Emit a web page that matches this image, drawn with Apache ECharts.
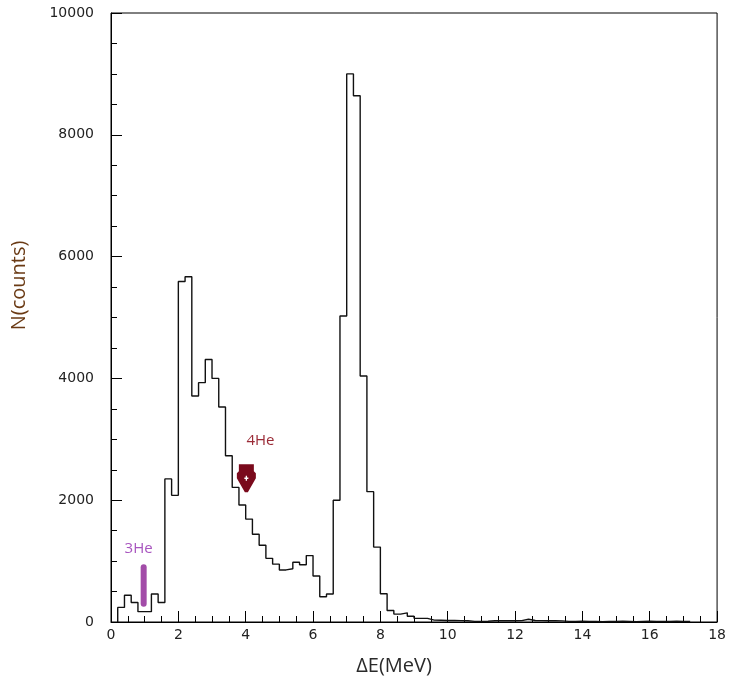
<!DOCTYPE html>
<html>
<head>
<meta charset="utf-8">
<script src="https://cdn.jsdelivr.net/npm/echarts@6/dist/echarts.min.js"></script>
<style>
  html, body { margin: 0; padding: 0; background: #fff; }
  #chart { width: 729px; height: 684px; }
</style>
</head>
<body>
<div id="chart"></div>
<script>
// ΔE spectrum, 0.2 MeV bins starting at 0.2 MeV
const binStart = 0.2;
const binWidth = 0.2;
const counts = [
  240, 440, 320, 170, 170, 460, 320, 2350, 2080,          // 0.2 – 2.0
  5590, 5670, 3710, 3930, 4310, 4000, 3530, 2730, 2210, 1920, // 2.0 – 4.0
  1690, 1440, 1260, 1045, 950, 855, 875, 980, 940, 1090,  // 4.0 – 6.0
  755, 415, 460, 2000, 5025, 9000, 8640, 4040, 2140, 1230, // 6.0 – 8.0
  465, 190, 130, 150, 95, 60, 60, 30, 28, 25,             // 8.0 – 10.0
  25, 22, 20, 10, 10, 12, 20, 20, 22, 20,                 // 10.0 – 12.0
  22, 45, 25, 22, 20, 20, 18, 10, 10, 12,                 // 12.0 – 14.0
  10, 10, 5, 10, 8, 12, 10, 5, 10, 12,                    // 14.0 – 16.0
  10, 10, 8, 12, 10, 10                                   // 16.0 – 17.2
];

const xTicks = { min: 0, max: 18, step: 2 };
const yTicks = { min: 0, max: 10000, step: 2000 };

// particle markers: [ΔE, counts]
const he3Bar = [[0.97, 300], [0.97, 900]];
const he3Label = [0.82, 1210];
const he4Arrow = [4.02, 2360];
const he4Label = [4.44, 2980];

// step outline of the histogram
const edges = counts.map((_, i) => +(binStart + i * binWidth).toFixed(2));
const lastEdge = +(binStart + counts.length * binWidth).toFixed(2);
const outline = [[binStart, 0]]
  .concat(counts.map((c, i) => [edges[i], c]))
  .concat([[lastEdge, 0]]);

const tickFont = { fontFamily: 'DejaVu Sans', fontSize: 14, color: '#222' };
const plain = v => String(v);

const chart = echarts.init(document.getElementById('chart'), null, { renderer: 'canvas' });
chart.setOption({
  animation: false,
  backgroundColor: '#fff',
  grid: {
    left: 111, right: 7, top: 13, bottom: 62,
    show: true, borderColor: '#000', borderWidth: 1
  },
  xAxis: {
    type: 'value',
    min: xTicks.min, max: xTicks.max, interval: xTicks.step,
    name: 'ΔE(MeV)',
    nameLocation: 'middle',
    nameGap: 34,
    nameTextStyle: { fontFamily: 'Open Sans', fontSize: 20, color: '#2a2a2a', padding: [0, 40, 0, 0] },
    axisLine: { show: true, lineStyle: { color: '#000', width: 1 } },
    axisTick: { show: true, inside: true, length: 11, lineStyle: { color: '#000' } },
    minorTick: { show: true, splitNumber: 4, length: 6, lineStyle: { color: '#000' } },
    axisLabel: Object.assign({ margin: 6, formatter: plain }, tickFont),
    splitLine: { show: false }
  },
  yAxis: {
    type: 'value',
    min: yTicks.min, max: yTicks.max, interval: yTicks.step,
    name: 'N(counts)',
    nameLocation: 'middle',
    nameGap: 82,
    nameRotate: 90,
    nameTextStyle: { fontFamily: 'Open Sans', fontSize: 20, color: '#6a3a14', padding: [0, 0, 0, 64] },
    axisLine: { show: true, lineStyle: { color: '#000', width: 1 } },
    axisTick: { show: true, inside: true, length: 11, lineStyle: { color: '#000' } },
    minorTick: { show: true, splitNumber: 4, length: 6, lineStyle: { color: '#000' } },
    axisLabel: Object.assign({ margin: 17, formatter: plain }, tickFont),
    splitLine: { show: false }
  },
  series: [
    {
      name: 'spectrum',
      type: 'line',
      step: 'end',
      data: outline,
      showSymbol: false,
      symbol: 'none',
      lineStyle: { color: '#111', width: 1.4 },
      z: 3
    },
    {
      name: '3He',
      type: 'line',
      data: he3Bar,
      symbol: 'none',
      lineStyle: { color: '#a24ca8', width: 6, cap: 'round' },
      z: 4
    },
    {
      name: '3He label',
      type: 'scatter',
      data: [he3Label],
      symbolSize: 0,
      itemStyle: { opacity: 1 },
      label: {
        show: true, position: 'inside', formatter: '3He',
        fontFamily: 'Open Sans', fontSize: 15, color: '#a855bf'
      },
      z: 5
    },
    {
      name: '4He',
      type: 'scatter',
      data: [he4Arrow],
      symbol: 'path://M2,0 L17,0 L17,7 L19,9 L19,14 L11,28 L8,28 L0,14 L0,9 L2,7 Z',
      symbolSize: [19, 28],
      itemStyle: { color: '#7a0a1c', opacity: 1 },
      z: 5
    },
    {
      name: '4He centre',
      type: 'scatter',
      data: [he4Arrow],
      symbol: 'path://M1,0 L2,0 L2,1 L3,1 L3,2 L2,2 L2,3 L1,3 L1,2 L0,2 L0,1 L1,1 Z',
      symbolSize: [4, 5],
      itemStyle: { color: '#fff', opacity: 1 },
      z: 6
    },
    {
      name: '4He label',
      type: 'scatter',
      data: [he4Label],
      symbolSize: 0,
      itemStyle: { opacity: 1 },
      label: {
        show: true, position: 'inside', formatter: '4He',
        fontFamily: 'Open Sans', fontSize: 15, color: '#9a2a36'
      },
      z: 5
    }
  ]
});
</script>
</body>
</html>
